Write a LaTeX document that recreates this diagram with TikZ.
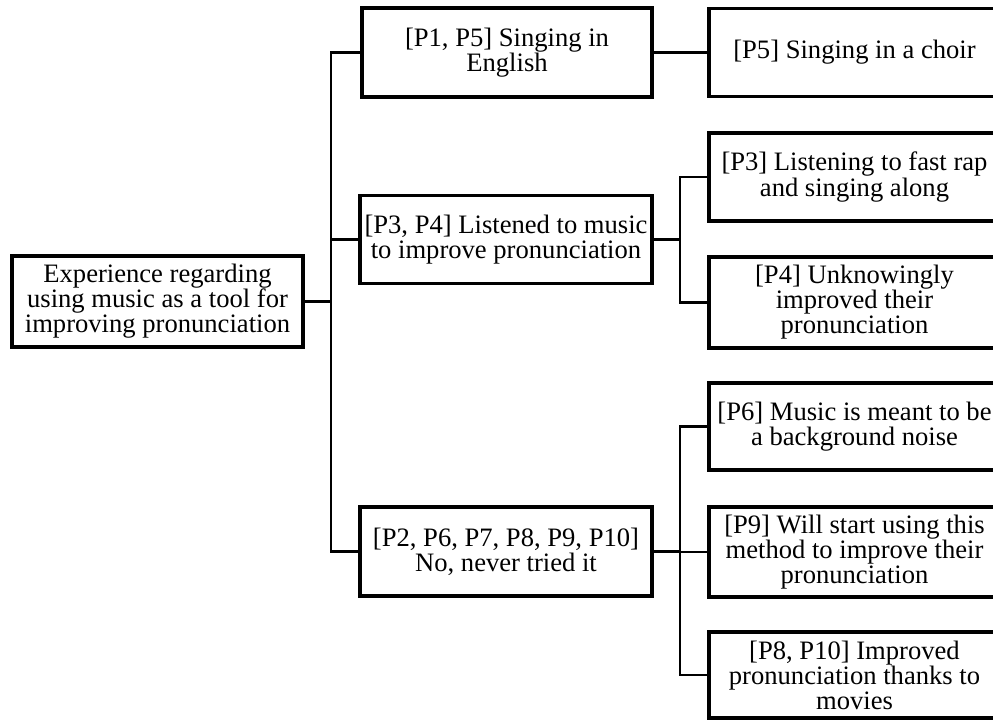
\documentclass[tikz,border=0pt]{standalone}
\usepackage{fontspec}
\setmainfont{Liberation Serif}
\begin{document}
\begin{tikzpicture}[x=1pt,y=-1pt,
  box/.style={draw, line width=3.5pt, inner sep=0pt, align=center,
    font=\fontsize{26.6}{25}\selectfont, minimum width=#1},
  box/.default=290pt,
  link/.style={line width=2.5pt}]
\useasboundingbox (0,0) rectangle (993,721);
\clip (0,0) rectangle (993,721);
% root
\node[box=291pt, minimum height=91pt] (root) at (157.5,301.5) {Experience regarding\\using music as a tool for\\improving pronunciation};
% middle column
\node[box, minimum height=89pt] (m1) at (507,52.5) {[P1, P5] Singing in\\English};
\node[box=292pt, minimum height=88pt] (m2) at (506,239.5) {[P3, P4] Listened to music\\to improve pronunciation};
\node[box=292pt, minimum height=89pt] (m3) at (506,551.5) {[P2, P6, P7, P8, P9, P10]\\No, never tried it};
% right column
\node[box=291pt, minimum height=88pt] (r1) at (854.5,52.5) {[P5] Singing in a choir};
\node[box=291pt, minimum height=88pt] (r2) at (854.5,177) {[P3] Listening to fast rap\\and singing along};
\node[box=291pt, minimum height=91pt] (r3) at (854.5,302.5) {[P4] Unknowingly\\improved their\\pronunciation};
\node[box=291pt, minimum height=87pt] (r4) at (854.5,426.5) {[P6] Music is meant to be\\a background noise};
\node[box=291pt, minimum height=90pt] (r5) at (854.5,552) {[P9] Will start using this\\method to improve their\\pronunciation};
\node[box=291pt, minimum height=86pt] (r6) at (854.5,675) {[P8, P10] Improved\\pronunciation thanks to\\movies};
% connectors
\coordinate (t0) at (331,0);
\draw[link] (root.east) -- (t0 |- root.east);
\draw[link] (m1.west) -| (t0 |- m3.west) -- (m3.west);
\draw[link] (t0 |- m2.west) -- (m2.west);
\coordinate (t1) at (680,0);
\draw[link] (m1.east) -- (r1.west);
\draw[link] (m2.east) -- (t1 |- m2.east);
\draw[link] (r2.west) -| (t1 |- r3.west) -- (r3.west);
\draw[link] (m3.east) -- (t1 |- m3.east);
\draw[link] (r4.west) -| (t1 |- r6.west) -- (r6.west);
\draw[link] (t1 |- r5.west) -- (r5.west);
\end{tikzpicture}
\end{document}
